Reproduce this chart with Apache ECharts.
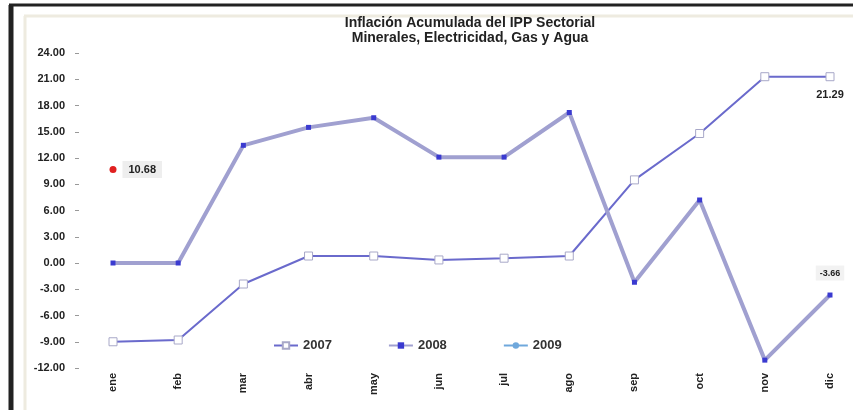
<!DOCTYPE html>
<html>
<head>
<meta charset="utf-8">
<script src="https://cdn.jsdelivr.net/npm/echarts@6/dist/echarts.min.js"></script>
<style>html,body{margin:0;padding:0;background:#fff}#c{width:853px;height:410px}</style>
</head>
<body>
<div id="c"></div>
<script>
const categories = ['ene','feb','mar','abr','may','jun','jul','ago','sep','oct','nov','dic'];
const s2007 = [-9.0, -8.8, -2.4, 0.8, 0.8, 0.35, 0.55, 0.8, 9.5, 14.8, 21.29, 21.29];
const s2008 = [0.0, 0.0, 13.45, 15.5, 16.6, 12.1, 12.1, 17.2, -2.2, 7.2, -11.1, -3.66];
const s2009 = [10.68];
const seriesNames = ['2007','2008','2009'];
const titleLines = ['Inflación Acumulada del IPP Sectorial','Minerales, Electricidad, Gas y Agua'];

const chart = echarts.init(document.getElementById('c'));
const bold = {fontFamily:'Liberation Sans, Arial', fontWeight:'bold', fontSize:10, color:'#222'};
chart.setOption({
  animation:false,
  backgroundColor:'#fff',
  title:{text:titleLines.join('\n'), left:465, top:11, textAlign:'center',
    textStyle:{fontFamily:'Liberation Sans, Arial', fontWeight:'bold', fontSize:14, color:'#222', lineHeight:15}},
  graphic:[
    {type:'line', shape:{x1:11,y1:5,x2:11,y2:410}, style:{stroke:'#222',lineWidth:5}},
    {type:'line', shape:{x1:9,y1:5,x2:853,y2:5}, style:{stroke:'#222',lineWidth:3}},
    {type:'line', shape:{x1:25,y1:16,x2:25,y2:410}, style:{stroke:'#eeebe0',lineWidth:3}},
    {type:'line', shape:{x1:24,y1:16,x2:853,y2:16}, style:{stroke:'#eeebe0',lineWidth:3}}
  ],
  legend:{data:seriesNames, left:268, top:334, itemGap:56, itemWidth:24, itemHeight:8,
    textStyle:{fontFamily:'Liberation Sans, Arial', fontWeight:'bold', fontSize:13, color:'#333'}},
  grid:{left:113, right:23, top:53, bottom:42},
  xAxis:{type:'category', data:categories, boundaryGap:false,
    axisLine:{show:false}, axisTick:{show:false}, splitLine:{show:false},
    axisLabel:{rotate:90, margin:5, ...bold, fontSize:11}},
  yAxis:{type:'value', min:-12, max:24, interval:3, offset:34,
    axisLine:{show:false}, splitLine:{show:false},
    axisTick:{show:true, length:4, lineStyle:{color:'#999'}},
    axisLabel:{margin:14, ...bold, fontSize:11, formatter:v=>v.toFixed(2)}},
  series:[
    {name:'2007', type:'line', data:s2007, symbol:'rect', symbolSize:8,
      lineStyle:{color:'#6a6acc', width:2},
      itemStyle:{color:'#ffffff', borderColor:'#a8a8c8', borderWidth:1},
      label:{show:false},
      markPoint:{symbol:'rect', symbolSize:1, itemStyle:{color:'rgba(0,0,0,0)'},
        data:[{coord:[11, 21.29], value:'21.29',
          label:{show:true, position:'bottom', distance:12, ...bold, fontSize:11, formatter:'21.29'}}]}},
    {name:'2008', type:'line', data:s2008, symbol:'rect', symbolSize:5,
      lineStyle:{color:'#a0a0d0', width:4},
      itemStyle:{color:'#3a3ad0'},
      markPoint:{symbol:'rect', symbolSize:1, itemStyle:{color:'rgba(0,0,0,0)'},
        data:[{coord:[11, -3.66], value:'-3.66',
          label:{show:true, position:'top', distance:14, ...bold, fontSize:9,
            backgroundColor:'#f2f2f2', padding:[3,4], formatter:'-3.66'}}]}},
    {name:'2009', type:'line', data:s2009, symbol:'circle', symbolSize:7,
      lineStyle:{color:'#6fa8dc', width:3},
      itemStyle:{color:'#6fa8dc'},
      data:[{value:s2009[0], itemStyle:{color:'#e02020'},
        label:{show:true, position:'right', distance:6, ...bold, fontSize:11,
          backgroundColor:'#eeeeee', padding:[3,6], formatter:'10.68'}}]}
  ]
});
</script>
</body>
</html>
